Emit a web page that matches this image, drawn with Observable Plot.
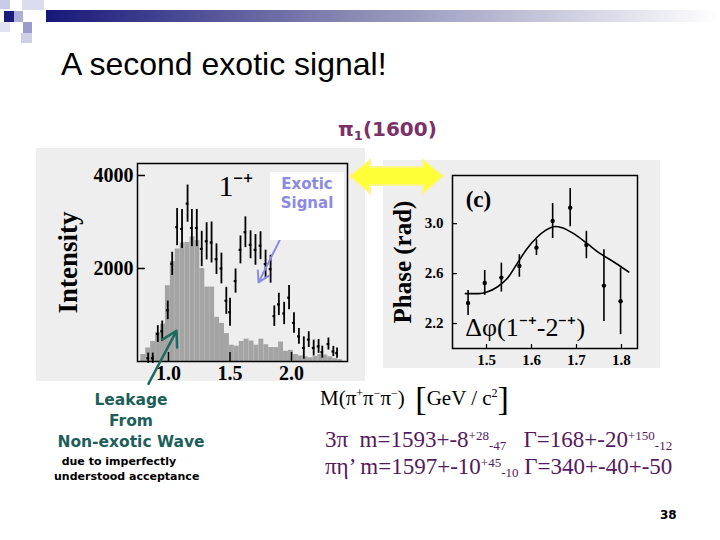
<!DOCTYPE html>
<html><head><meta charset="utf-8">
<script src="https://cdn.jsdelivr.net/npm/d3@7"></script>
<script src="https://cdn.jsdelivr.net/npm/@observablehq/plot@0.6"></script>
<style>
body{margin:0;background:#fff;}
#slide{position:relative;width:720px;height:540px;overflow:hidden;background:#fff;font-family:"Liberation Sans",Arial,sans-serif;}
.abs{position:absolute;}
.panel{position:absolute;background:#eeeeee;}
#title{left:61px;top:48px;font-size:32px;line-height:32px;color:#000;white-space:nowrap;}
#pi1{left:338px;top:117px;font-family:"DejaVu Sans";font-weight:bold;font-size:20px;color:#7c3068;white-space:nowrap;}
#pi1 sub{font-size:13px;vertical-align:-4px;}
#exotic{left:270px;top:172px;width:74px;height:68px;background:#fff;color:#8a8ae2;font-family:"DejaVu Sans";font-weight:bold;font-size:15px;line-height:19px;text-align:center;padding-top:3px;box-sizing:border-box;}
#leak{left:40px;top:390px;width:182px;text-align:center;color:#1d5e5a;font-family:"DejaVu Sans";font-weight:bold;font-size:15.5px;line-height:21px;}
#due{left:54px;top:454px;font-family:"DejaVu Sans";font-weight:bold;font-size:11px;line-height:15px;color:#000;white-space:nowrap;}
#mlab{left:320px;top:380px;font-family:"Liberation Serif";font-size:21px;color:#000;white-space:nowrap;}
#mlab .br{font-size:34px;vertical-align:-5px;}
#mlab sup{font-size:12px;vertical-align:8px;}
.res{left:325px;font-family:"Liberation Serif";font-size:23px;color:#55195d;white-space:nowrap;line-height:24px;}
.res sup{font-size:13px;vertical-align:7px;}
.res sub{font-size:13px;vertical-align:-3px;}
#res1{top:424px;}
#res2{top:451px;}
#page{left:660px;top:508px;font-family:"DejaVu Sans";font-weight:bold;font-size:12px;color:#000;}
</style></head>
<body><div id="slide">
<svg class="abs" style="left:0;top:0" width="720" height="50">
  <defs><linearGradient id="hg" x1="0" x2="1" y1="0" y2="0">
    <stop offset="0" stop-color="#17177a"/><stop offset="0.45" stop-color="#8888b4"/><stop offset="1" stop-color="#ffffff"/>
  </linearGradient></defs>
  <rect x="46" y="10" width="674" height="12" fill="url(#hg)"/>
  <rect x="0" y="0" width="10" height="9" fill="#c9c9e8"/>
  <rect x="22" y="0" width="22" height="10" fill="#dcdcf0"/>
  <rect x="4" y="11" width="10" height="11" fill="#1c1c7c"/>
  <rect x="14" y="11" width="9" height="11" fill="#aeaed8"/>
  <rect x="0" y="22" width="10" height="10" fill="#e2e2f2"/>
  <rect x="23" y="22" width="9" height="11" fill="#9a9acb"/>
  <rect x="21" y="33" width="11" height="10" fill="#cfcfe9"/>
</svg>
<div id="title" class="abs">A second exotic signal!</div>
<div id="pi1" class="abs">π<sub>1</sub>(1600)</div>
<div class="panel" style="left:36px;top:148px;width:329px;height:233px;"></div>
<div class="panel" style="left:383px;top:160px;width:277px;height:208px;"></div>
<div id="hist" class="abs" style="left:36px;top:150px;"></div>
<div id="phase" class="abs" style="left:383px;top:160px;"></div>
<div id="exotic" class="abs">Exotic<br>Signal</div>
<svg class="abs" style="left:340px;top:150px" width="120" height="60">
  <polygon points="10,26 30,10 30,17 83,17 83,10 103,26 83,43 83,35 30,35 30,43" fill="#ffff38" stroke="#fbf58a" stroke-width="2"/>
</svg>
<div id="leak" class="abs">Leakage<br>From<br>Non-exotic Wave</div>
<div id="due" class="abs">&nbsp;&nbsp;due to imperfectly<br>understood acceptance</div>
<div id="mlab" class="abs">M(π<sup>+</sup>π<sup>−</sup>π<sup>−</sup>)&nbsp;&nbsp;<span class="br">[</span>GeV / c<sup>2</sup><span class="br">]</span></div>
<div id="res1" class="abs res">3π&nbsp; m=1593+-8<sup>+28</sup><sub>-47</sub>&nbsp;&nbsp; Γ=168+-20<sup>+150</sup><sub>-12</sub></div>
<div id="res2" class="abs res">πη’ m=1597+-10<sup>+45</sup><sub>-10</sub> Γ=340+-40+-50</div>
<div id="page" class="abs">38</div>
</div>
<script>
// ---- Intensity histogram (1-+ wave) ----
const binCenters = [0.795,0.835,0.875,0.915,0.955,0.995,1.035,1.075,1.115,1.155,1.195,1.235,1.275,1.315,1.355,1.395,1.435,1.475,1.515,1.555,1.595,1.635,1.675,1.715,1.755,1.795,1.835,1.875,1.915,1.955,1.995,2.035,2.075,2.115,2.155,2.195,2.235,2.275,2.315,2.355,2.395];
const leakageHeights = [150,290,430,620,800,1630,2150,2420,2550,2560,2680,2600,2000,1600,1600,950,820,600,350,330,430,480,440,350,480,360,300,300,420,220,240,150,120,100,80,110,150,140,100,60,40];
const pointMass = [0.835,0.872,0.913,0.949,0.994,1.03,1.07,1.11,1.155,1.19,1.23,1.27,1.31,1.35,1.39,1.43,1.47,1.50,1.545,1.585,1.625,1.667,1.707,1.748,1.789,1.83,1.86,1.897,1.94,1.98,2.02,2.06,2.10,2.14,2.18,2.22,2.25,2.30,2.34,2.37];
const pointIntensity = [70,70,590,650,1100,2100,2890,2850,3395,2870,2870,2420,2585,2560,2200,2000,1305,1060,1730,2400,2780,2510,2400,2490,2095,1985,975,1228,1033,1372,830,540,290,470,290,325,200,375,215,180];
const pointError = [110,110,180,220,200,250,400,420,400,400,400,380,400,440,330,330,290,300,260,300,330,300,330,300,300,300,220,240,240,260,220,170,240,170,170,150,130,130,110,110];
const massTicks = [1.0,1.5,2.0];
const intensityTicks = [2000,4000];
const exoticArrow = [{x1:1.976,y1:2990,x2:1.732,y2:1700}];
const leakArrow = [{x1:0.837,y1:-480,x2:1.065,y2:660}];

// ---- Phase difference plot ----
const phaseMass = [1.459,1.496,1.533,1.573,1.611,1.647,1.686,1.722,1.761,1.798];
const phaseValue = [2.365,2.525,2.568,2.661,2.808,3.021,3.128,2.829,2.504,2.378];
const phaseError = [0.10,0.10,0.116,0.09,0.063,0.14,0.153,0.11,0.287,0.267];
const fitMass = [1.453,1.483,1.501,1.524,1.546,1.568,1.59,1.613,1.631,1.653,1.668,1.694,1.724,1.753,1.783,1.816];
const fitPhase = [2.44,2.44,2.453,2.493,2.56,2.68,2.80,2.893,2.946,2.978,2.968,2.92,2.84,2.76,2.693,2.613];
const phaseMassTicks = [1.5,1.6,1.7,1.8];
const phaseTicks = [2.2,2.6,3.0];

const bins = binCenters.map((c,i)=>({c, h: leakageHeights[i]}));
const pts = pointMass.map((x,i)=>({x, y: pointIntensity[i], e: pointError[i]}));

const hW = 329, hH = 232, hML = 101, hMR = 18, hMT = 13, hMB = 21;
const hist = Plot.plot({
  width: hW, height: hH,
  marginLeft: hML, marginRight: hMR, marginTop: hMT, marginBottom: hMB,
  x: {domain: [0.748, 2.455], ticks: massTicks, tickSize: 0, tickPadding: 4, tickFormat: d3.format(".1f"), label: null},
  y: {domain: [0, 4258], ticks: intensityTicks, tickSize: 0, tickPadding: 4, tickFormat: d => String(d), label: null},
  style: {background: "transparent", fontFamily: "Liberation Serif", fontWeight: "bold", fontSize: "20px", color: "#000", overflow: "visible"},
  marks: [
    Plot.rectY(bins, {x1: d => d.c - 0.02, x2: d => d.c + 0.02, y: "h", fill: "#a4a4a4"}),
    Plot.ruleX(pts, {x: "x", y1: d => d.y - d.e, y2: d => d.y + d.e, stroke: "#000", strokeWidth: 1.8}),
    Plot.ruleY(pts, {y: "y", x1: d => d.x - 0.011, x2: d => d.x + 0.011, stroke: "#000", strokeWidth: 2.2}),
    Plot.ruleX(massTicks, {x: d => d, insetTop: hH - hMT - hMB - 9, stroke: "#000", strokeWidth: 1.5}),
    Plot.ruleY(intensityTicks, {y: d => d, insetRight: hW - hML - hMR - 8, stroke: "#000", strokeWidth: 1.5}),
    Plot.frame({stroke: "#000", strokeWidth: 1.5}),
    Plot.text(["1⁻⁺"], {text: d => d, x: 1.406, y: 3770, textAnchor: "start", lineAnchor: "middle", fontSize: 30, fontWeight: "normal", fontFamily: "Liberation Serif"}),
    Plot.text(["Intensity"], {text: d => d, frameAnchor: "left", textAnchor: "middle", lineAnchor: "middle", dx: -69, rotate: -90, fontSize: 27, fontWeight: "bold"}),
    Plot.arrow(exoticArrow, {x1: "x1", y1: "y1", x2: "x2", y2: "y2", stroke: "#8c8ce2", strokeWidth: 2, headLength: 9}),
    Plot.arrow(leakArrow, {x1: "x1", y1: "y1", x2: "x2", y2: "y2", stroke: "#1d6b5e", strokeWidth: 2.5, headLength: 10})
  ]
});
document.getElementById("hist").appendChild(hist);

const phasePts = phaseMass.map((x,i)=>({x, y: phaseValue[i], e: phaseError[i]}));
const fit = fitMass.map((x,i)=>({x, y: fitPhase[i]}));
const pW = 277, pH = 208, pML = 69, pMR = 23, pMT = 15, pMB = 20;
const phase = Plot.plot({
  width: pW, height: pH,
  marginLeft: pML, marginRight: pMR, marginTop: pMT, marginBottom: pMB,
  x: {domain: [1.4244, 1.8356], ticks: phaseMassTicks, tickSize: 0, tickPadding: 6, tickFormat: d3.format(".1f"), label: null},
  y: {domain: [2.0, 3.386], ticks: phaseTicks, tickSize: 0, tickPadding: 9, tickFormat: d3.format(".1f"), label: null},
  style: {background: "transparent", fontFamily: "Liberation Serif", fontWeight: "bold", fontSize: "15px", color: "#000", overflow: "visible"},
  marks: [
    Plot.ruleY(phaseTicks, {y: d => d, insetRight: pW - pML - pMR - 5, stroke: "#000", strokeWidth: 1.2}),
    Plot.ruleX(phaseMassTicks, {x: d => d, insetTop: pH - pMT - pMB - 4, stroke: "#000", strokeWidth: 1.2}),
    Plot.line(fit, {x: "x", y: "y", stroke: "#000", strokeWidth: 1.6, curve: "monotone-x"}),
    Plot.ruleX(phasePts, {x: "x", y1: d => d.y - d.e, y2: d => d.y + d.e, stroke: "#000", strokeWidth: 1.6}),
    Plot.dot(phasePts, {x: "x", y: "y", r: 2.2, fill: "#000", stroke: "none"}),
    Plot.frame({stroke: "#000", strokeWidth: 1.5}),
    Plot.text(["(c)"], {text: d => d, x: 1.482, y: 3.194, fontSize: 23, fontWeight: "bold"}),
    Plot.text(["Δφ(1⁻⁺-2⁻⁺)"], {text: d => d, x: 1.453, y: 2.17, textAnchor: "start", lineAnchor: "middle", fontSize: 26, fontWeight: "normal"}),
    Plot.text(["Phase (rad)"], {text: d => d, frameAnchor: "left", textAnchor: "middle", lineAnchor: "middle", dx: -50, rotate: -90, fontSize: 25, fontWeight: "bold"})
  ]
});
document.getElementById("phase").appendChild(phase);
</script>
</body></html>
